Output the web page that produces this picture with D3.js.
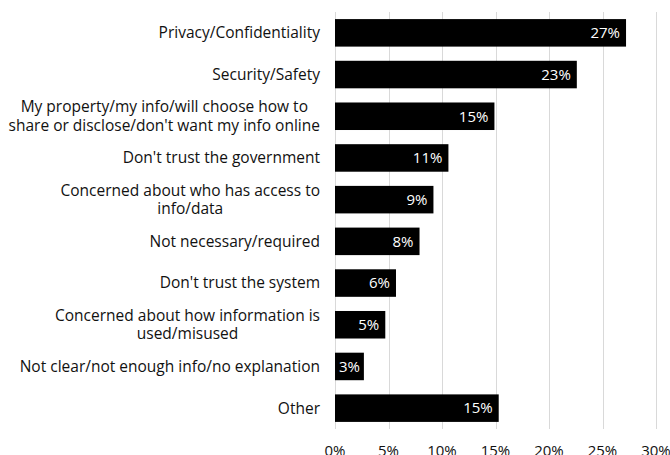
<!DOCTYPE html>
<html>
<head>
<meta charset="utf-8">
<script src="https://cdn.jsdelivr.net/npm/d3@7"></script>
<style>
  html, body { margin: 0; padding: 0; background: #fff; }
  svg { display: block; font-family: "Open Sans", "Noto Sans", sans-serif; }
</style>
</head>
<body>
<svg id="chart" width="670" height="455"></svg>
<script>
// Reasons given, top to bottom ("\n" marks a line break in the label)
const categories = [
  "Privacy/Confidentiality",
  "Security/Safety",
  "My property/my info/will choose how to\nshare or disclose/don't want my info online",
  "Don't trust the government",
  "Concerned about who has access to\ninfo/data",
  "Not necessary/required",
  "Don't trust the system",
  "Concerned about how information is\nused/misused",
  "Not clear/not enough info/no explanation",
  "Other"
];
// Share of respondents
const values = [0.272, 0.226, 0.149, 0.106, 0.092, 0.079, 0.057, 0.047, 0.027, 0.153];
const tickValues = [0, 0.05, 0.10, 0.15, 0.20, 0.25, 0.30];

const svg = d3.select("#chart");
const margin = { top: 12, right: 14, bottom: 26, left: 335 };
const W = 670, H = 455;
const innerW = W - margin.left - margin.right;
const innerH = H - margin.top - margin.bottom;
const labelFont = 15.5;
const valueFont = 15;
const textColor = "#111";

const g = svg.append("g").attr("transform", `translate(${margin.left},${margin.top})`);

const x = d3.scaleLinear().domain([0, 0.30]).range([0, innerW]);
const y = d3.scaleBand().domain(categories).range([0, innerH]).paddingInner(0.34).paddingOuter(0.17);

// vertical gridlines
g.append("g")
  .selectAll("line")
  .data(tickValues)
  .join("line")
  .attr("x1", d => Math.round(x(d)) + 0.5)
  .attr("x2", d => Math.round(x(d)) + 0.5)
  .attr("y1", 0)
  .attr("y2", innerH)
  .attr("stroke", "#d9d9d9")
  .attr("stroke-width", 1);

// bars
const rows = categories.map((c, i) => ({ c, v: values[i] }));
g.append("g")
  .selectAll("rect")
  .data(rows)
  .join("rect")
  .attr("x", 0)
  .attr("y", d => y(d.c))
  .attr("width", d => x(d.v))
  .attr("height", y.bandwidth())
  .attr("fill", "#000");

// value labels inside bar ends; short bars keep the label inside from the left
const fmt = d3.format(".0%");
g.append("g")
  .selectAll("text")
  .data(rows)
  .join("text")
  .attr("y", d => y(d.c) + y.bandwidth() / 2)
  .attr("dy", "0.35em")
  .attr("text-anchor", "end")
  .attr("fill", "#fff")
  .attr("font-size", valueFont)
  .text(d => fmt(d.v))
  .attr("x", function(d) {
    const w = this.getComputedTextLength();
    return Math.max(x(d.v) - 6, w + 4);
  });

// category labels: block right-aligned, lines centred on each other
const labelRight = -15;
const lineH = 18.5;
const labels = g.append("g")
  .selectAll("text")
  .data(rows)
  .join("text")
  .attr("font-size", labelFont)
  .attr("fill", textColor)
  .attr("text-anchor", "middle");

labels.each(function(d) {
  const lines = d.c.split("\n");
  const t = d3.select(this);
  const cy = y(d.c) + y.bandwidth() / 2;
  const spans = lines.map((ln, i) => t.append("tspan")
    .attr("y", cy + (i - (lines.length - 1) / 2) * lineH)
    .attr("dy", "0.35em")
    .text(ln));
  // the widest line decides where the block's centre sits
  const maxW = d3.max(spans, s => s.node().getComputedTextLength());
  spans.forEach(s => s.attr("x", labelRight - maxW / 2));
});

// x axis tick labels
g.append("g")
  .selectAll("text")
  .data(tickValues)
  .join("text")
  .attr("x", d => x(d))
  .attr("y", innerH + 22)
  .attr("dy", "0.35em")
  .attr("text-anchor", "middle")
  .attr("font-size", valueFont)
  .attr("fill", textColor)
  .text(d => fmt(d));
</script>
</body>
</html>
